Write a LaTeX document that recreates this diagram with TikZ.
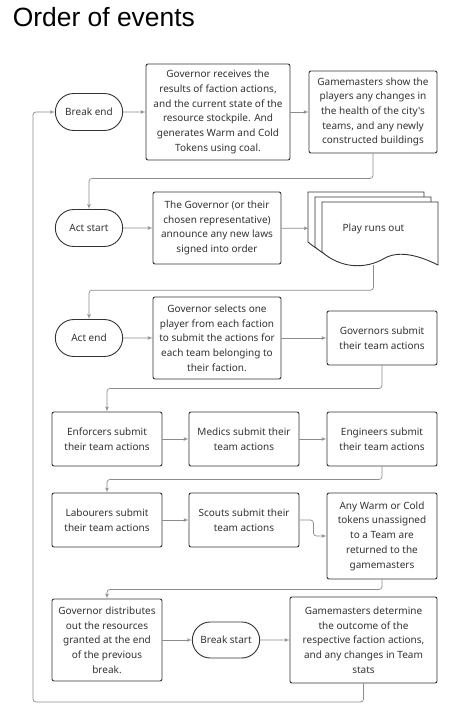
\documentclass[tikz,border=0pt]{standalone}
\usepackage{fontspec}
\newfontfamily\bodyfont{Noto Sans}
\newfontfamily\titlefont{Liberation Sans}
\usepackage{tikz}
\usetikzlibrary{arrows, positioning, shapes.misc}
\definecolor{boxline}{HTML}{333333}
\definecolor{linkgray}{HTML}{8C8C8C}

\begin{document}
\begin{tikzpicture}[
    x=1pt, y=-1pt,
    block/.style={rectangle, draw=boxline, text=boxline, line width=0.9pt, rounded corners=2pt, fill=white, align=center, inner sep=2pt, font=\bodyfont\fontsize{10}{14.7}\selectfont},
    term/.style={rounded rectangle, draw=boxline, text=boxline, line width=0.9pt, fill=white, minimum width=74pt, minimum height=37pt, align=center, font=\bodyfont\fontsize{10}{14.7}\selectfont},
    page/.style={draw=boxline, line width=0.9pt, fill=white},
    arrow/.style={-latex', draw=linkgray, line width=0.7pt},
    link/.style={-latex', draw=linkgray, line width=0.7pt, rounded corners=3pt}
]
    \useasboundingbox (0,0) rectangle (462,714);
    \node[anchor=base west, inner sep=0pt, font=\titlefont\fontsize{26.4}{30}\selectfont] (title) at (12.7,26.5) {Order of events};

    % Top row
    \node[term] (breakend) at (89,112) {Break end};
    \node[block, minimum width=144pt, minimum height=96pt] (govrec) at (218,112) {Governor receives the\\results of faction actions,\\and the current state of the\\resource stockpile. And\\generates Warm and Cold\\Tokens using coal.};
    \node[block, minimum width=128pt, minimum height=82pt] (gmshow) at (373,112) {Gamemasters show the\\players any changes in\\the health of the city's\\teams, and any newly\\constructed buildings};

    % Act start row
    \node[term] (actstart) at (89,228) {Act start};
    \node[block, minimum width=128pt, minimum height=72pt] (govann) at (217,228) {The Governor (or their\\chosen representative)\\announce any new laws\\signed into order};
    \foreach \dx/\dy in {-14/-10, -7/-5, 0/0}
        \draw[page, shift={(\dx,\dy)}] (322,202) -- (438,202) -- (438,265)
            .. controls (420,256) and (400,250) .. (385,258)
            .. controls (365,270) and (340,268) .. (322,252) -- cycle;
    \node[minimum width=129pt, minimum height=73pt, inner sep=0pt, text=boxline, font=\bodyfont\fontsize{10}{14.7}\selectfont] (play) at (373.5,228.5) {Play runs out};

    % Act end row
    \node[term] (actend) at (89,338) {Act end};
    \node[block, minimum width=128pt, minimum height=82pt] (govsel) at (217,338) {Governor selects one\\player from each faction\\to submit the actions for\\each team belonging to\\their faction.};
    \node[block, minimum width=110pt, minimum height=54pt] (govsub) at (382,338) {Governors submit\\their team actions};

    % Team actions
    \node[block, minimum width=110pt, minimum height=54pt] (enf) at (107,439) {Enforcers submit\\their team actions};
    \node[block, minimum width=110pt, minimum height=54pt] (med) at (244,439) {Medics submit their\\team actions};
    \node[block, minimum width=110pt, minimum height=54pt] (eng) at (382,439) {Engineers submit\\their team actions};
    \node[block, minimum width=110pt, minimum height=54pt] (lab) at (107,520) {Labourers submit\\their team actions};
    \node[block, minimum width=110pt, minimum height=54pt] (scouts) at (244,520) {Scouts submit their\\team actions};
    \node[block, minimum width=110pt, minimum height=86pt] (anywarm) at (382,536) {Any Warm or Cold\\tokens unassigned\\to a Team are\\returned to the\\gamemasters};

    % Break row
    \node[block, minimum width=110pt, minimum height=82pt] (govdist) at (107,640) {Governor distributes\\out the resources\\granted at the end\\of the previous\\break.};
    \node[term, minimum height=36pt] (breakstart) at (226,640) {Break start};
    \node[block, minimum width=147pt, minimum height=86pt] (gmdet) at (363.5,640) {Gamemasters determine\\the outcome of the\\respective faction actions,\\and any changes in Team\\stats};

    \coordinate (loop) at (33,702);

    \draw[arrow] (breakend) -- (govrec);
    \draw[arrow] (govrec) -- (gmshow);
    \draw[link] (gmshow.south) -- ++(0,25) -| (actstart.north);
    \draw[arrow] (actstart) -- (govann);
    \draw[arrow] (govann) -- (play);
    \draw[link] (play.south) -- ++(0,25) -| (actend.north);
    \draw[arrow] (actend) -- (govsel);
    \draw[arrow] (govsel) -- (govsub);
    \draw[link] (govsub.south) -- ++(0,23) -| (enf.north);
    \draw[arrow] (enf) -- (med);
    \draw[arrow] (med) -- (eng);
    \draw[link] (eng.south) -- ++(0,13) -| (lab.north);
    \draw[arrow] (lab) -- (scouts);
    \draw[link] (scouts.east) -- ++(14,0) |- (anywarm.west);
    \draw[link] (anywarm.south) -- ++(0,10) -| (govdist.north);
    \draw[arrow] (govdist) -- (breakstart);
    \draw[arrow] (breakstart) -- (gmdet);
    \draw[link] (gmdet.south) |- (loop) |- (breakend.west);
\end{tikzpicture}
\end{document}
